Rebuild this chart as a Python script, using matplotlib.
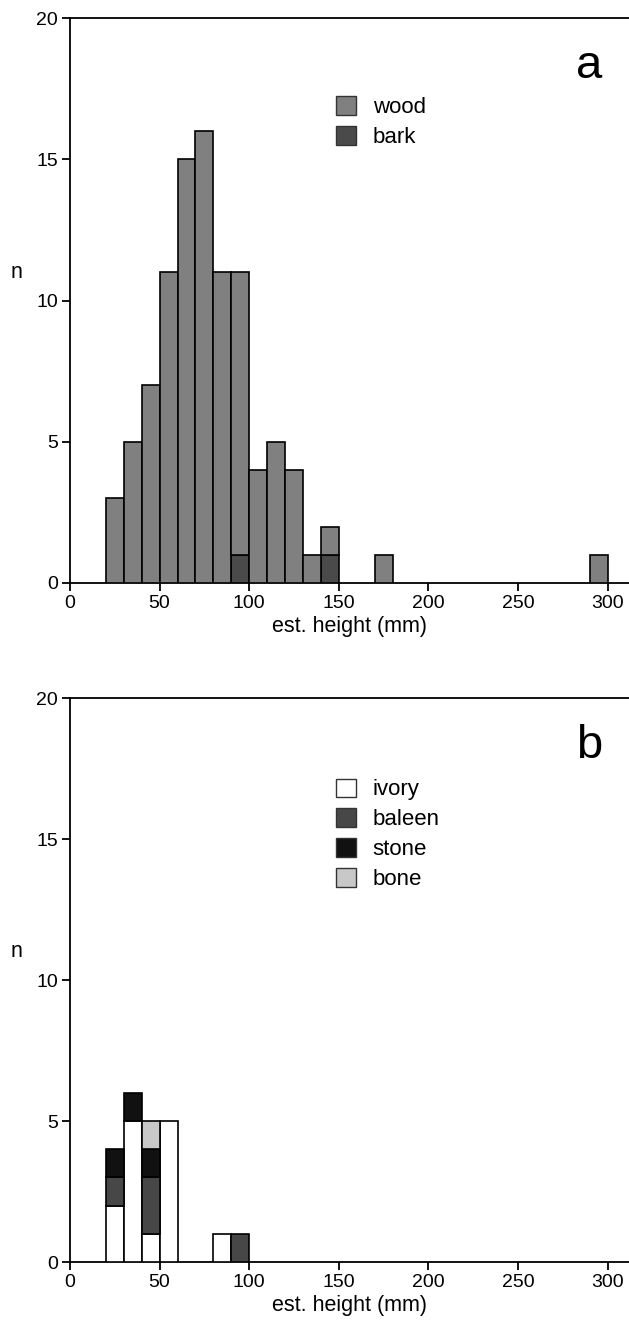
import matplotlib
matplotlib.use("Agg")
import matplotlib.pyplot as plt
from matplotlib.patches import Patch
import numpy as np

plt.rcParams['font.family'] = ['Liberation Sans', 'DejaVu Sans']

# Panel a: wood / bark counts per 10 mm bin (bin left edges)
bins_a = [20, 30, 40, 50, 60, 70, 80, 90, 100, 110, 120, 130, 140, 170, 290]
bark = [0, 0, 0, 0, 0, 0, 0, 1, 0, 0, 0, 0, 1, 0, 0]
wood = [3, 5, 7, 11, 15, 16, 11, 10, 4, 5, 4, 1, 1, 1, 1]

# Panel b: ivory / baleen / stone / bone
bins_b = [20, 30, 40, 50, 80, 90]
ivory = [2, 5, 1, 5, 1, 0]
baleen = [1, 0, 2, 0, 0, 1]
stone = [1, 1, 1, 0, 0, 0]
bone = [0, 0, 1, 0, 0, 0]

xticks = [0, 50, 100, 150, 200, 250, 300]
yticks = [0, 5, 10, 15, 20]

fig = plt.figure(figsize=(6.29, 13.25), dpi=100)
ax1 = fig.add_axes([0.1113, 0.560, 0.8887, 0.4264])
ax2 = fig.add_axes([0.1113, 0.0475, 0.8887, 0.4257])

ec = 'black'
lw = 1.2

def style(ax, letter):
    ax.set_xlim(0, 312)
    ax.set_ylim(0, 20)
    ax.set_xticks(xticks)
    ax.set_yticks(yticks)
    ax.spines['right'].set_visible(False)
    for s in ['left', 'bottom', 'top']:
        ax.spines[s].set_linewidth(1.3)
    ax.tick_params(direction='out', length=6, width=1.3, labelsize=14, pad=2.5)
    ax.set_xlabel('est. height (mm)', fontsize=15.5, labelpad=3)
    ax.text(-0.0957, 0.540, 'n', transform=ax.transAxes, fontsize=15.5,
            ha='center', va='baseline')
    ax.text(0.929, 0.894, letter, transform=ax.transAxes, fontsize=34,
            ha='center', va='baseline')

def legend(ax, handles, y):
    ax.legend(handles=handles, loc='upper left', bbox_to_anchor=(0.460, y),
              frameon=False, fontsize=16, handlelength=0.9, handleheight=0.9,
              handletextpad=0.75, labelspacing=0.36, borderaxespad=0.0)

# Panel a
bark_c = '#4a4a4a'
wood_c = '#808080'
ax1.bar(bins_a, bark, width=10, align='edge', color=bark_c, edgecolor=ec, linewidth=lw, zorder=3)
ax1.bar(bins_a, wood, width=10, align='edge', bottom=bark, color=wood_c, edgecolor=ec, linewidth=lw, zorder=3)
style(ax1, 'a')
h1 = [Patch(facecolor=wood_c, edgecolor='#333333', label='wood'),
      Patch(facecolor=bark_c, edgecolor='#333333', label='bark')]
legend(ax1, h1, 0.877)

# Panel b
ivory_c = '#ffffff'
baleen_c = '#474747'
stone_c = '#111111'
bone_c = '#c8c8c8'
b0 = np.zeros(len(bins_b))
for vals, col in [(ivory, ivory_c), (baleen, baleen_c), (stone, stone_c), (bone, bone_c)]:
    v = np.array(vals, dtype=float)
    mask = v > 0
    ax2.bar(np.array(bins_b)[mask], v[mask], width=10, align='edge', bottom=b0[mask],
            color=col, edgecolor=ec, linewidth=lw, zorder=3)
    b0 = b0 + v
style(ax2, 'b')
h2 = [Patch(facecolor=ivory_c, edgecolor='#333333', label='ivory'),
      Patch(facecolor=baleen_c, edgecolor='#333333', label='baleen'),
      Patch(facecolor=stone_c, edgecolor='#333333', label='stone'),
      Patch(facecolor=bone_c, edgecolor='#333333', label='bone')]
legend(ax2, h2, 0.873)

fig.savefig('out.png', dpi=100)
